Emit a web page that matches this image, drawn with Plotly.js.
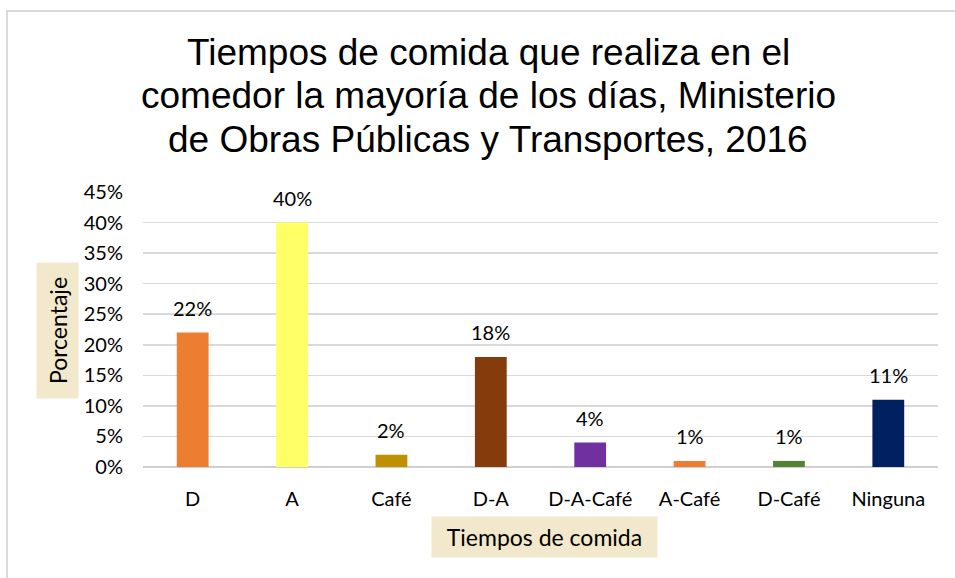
<!DOCTYPE html>
<html>
<head>
<meta charset="utf-8">
<script src="https://cdn.plot.ly/plotly-3.0.1.min.js"></script>
<style>
  html, body { margin: 0; padding: 0; background: #fff; }
  #wrap { position: relative; width: 955px; height: 578px; }
  #chart { position: absolute; left: 0; top: 0; width: 955px; height: 578px; }
  #frame { position: absolute; left: 6px; top: 10px; width: 960px; height: 580px;
           border-left: 2px solid #d9d9d9; border-top: 2px solid #d9d9d9; pointer-events: none; }
</style>
</head>
<body>
<div id="wrap">
  <div id="chart"></div>
  <div id="frame"></div>
</div>
<script>
const categories = ["D", "A", "Café", "D-A", "D-A-Café", "A-Café", "D-Café", "Ninguna"];
const values = [0.22, 0.40, 0.02, 0.18, 0.04, 0.01, 0.01, 0.11];
const labels = ["22%", "40%", "2%", "18%", "4%", "1%", "1%", "11%"];
const barColors = ["#ED7D31", "#FFFF66", "#BF9000", "#843C0C", "#7030A0", "#ED7D31", "#548235", "#002060"];
const yTickVals = [0, 0.05, 0.10, 0.15, 0.20, 0.25, 0.30, 0.35, 0.40, 0.45];
const titleLines = ["Tiempos de comida que realiza en el",
                    "comedor la mayoría de los días, Ministerio",
                    "de Obras Públicas y Transportes, 2016"];
const xTitle = "Tiempos de comida";
const yTitle = "Porcentaje";

const lblFont = { family: "Lato, 'Open Sans', sans-serif", size: 20, color: "#000" };

const trace = {
  type: "bar",
  x: categories,
  y: values,
  marker: { color: barColors, line: { width: 0 } },
  hoverinfo: "skip"
};

const annotations = categories.map((c, i) => ({
  x: c, y: values[i], xref: "x", yref: "y",
  text: labels[i], showarrow: false, yanchor: "bottom", yshift: 11,
  font: lblFont
}));

// chart title, one annotation per line (Excel-like tighter line spacing)
const titleCenters = [52, 96, 140];
titleLines.forEach((t, i) => {
  annotations.push({
    x: 488, y: titleCenters[i], xref: "paper", yref: "paper", text: t, showarrow: false,
    xanchor: "center", yanchor: "middle",
    font: { family: "'Liberation Sans', Arial, sans-serif", size: 37, color: "#000" }
  });
});

annotations.push({
  x: 544.5, y: 537, xref: "paper", yref: "paper", text: xTitle, showarrow: false,
  xanchor: "center", yanchor: "middle", width: 225, height: 40, borderpad: 0,
  font: { family: "Lato, sans-serif", size: 23, color: "#000" },
  bgcolor: "#F2E8CB"
});
annotations.push({
  x: 57.5, y: 330.5, xref: "paper", yref: "paper", text: yTitle, showarrow: false, textangle: -90,
  xanchor: "center", yanchor: "middle", width: 135, height: 41, borderpad: 0,
  font: { family: "Lato, sans-serif", size: 23, color: "#000" },
  bgcolor: "#F2E8CB"
});

// convert pixel-specified positions for the boxed titles and the title lines into paper coords
const M = { l: 143, r: 17, t: 192, b: 111 };
const PW = 955 - M.l - M.r, PH = 578 - M.t - M.b;
for (const a of annotations) {
  if (a.xref === "paper") {
    a.x = (a.x - M.l) / PW;
    a.y = (578 - M.b - a.y) / PH;
  }
}

const layout = {
  width: 955, height: 578,
  margin: M,
  paper_bgcolor: "#fff", plot_bgcolor: "#fff",
  showlegend: false,
  bargap: 0.68,
  xaxis: {
    type: "category",
    tickfont: lblFont,
    showgrid: false, zeroline: false, showline: false,
    ticks: "", ticklabelstandoff: 18
  },
  yaxis: {
    range: [0, 0.45],
    tickvals: yTickVals,
    tickformat: ".0%",
    tickfont: lblFont,
    showgrid: true, gridcolor: "#d9d9d9", gridwidth: 1.5,
    zeroline: true, zerolinecolor: "#d0d0d0", zerolinewidth: 2,
    showline: false, ticks: "", ticklabelstandoff: 19
  },
  annotations: annotations
};

Plotly.newPlot("chart", [trace], layout, { staticPlot: true, displayModeBar: false });
</script>
</body>
</html>
